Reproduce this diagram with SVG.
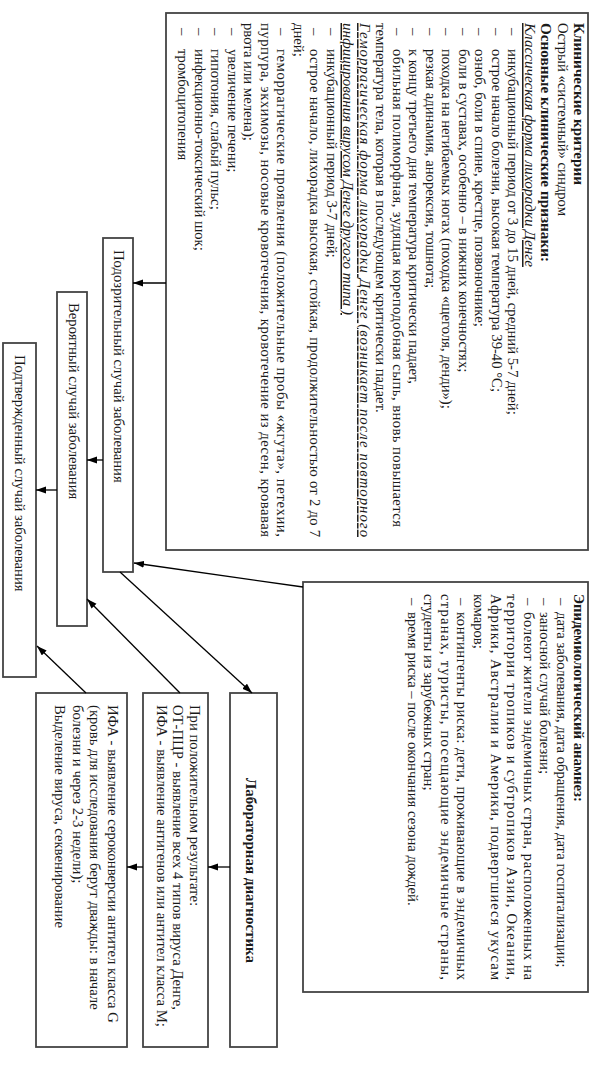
<svg xmlns="http://www.w3.org/2000/svg" width="593" height="1071" viewBox="0 0 593 1071">
<defs>
<style>
.box{fill:#fff;stroke:#444;stroke-width:1.8}
.t{font-family:"Liberation Serif","Times New Roman",serif;font-size:14.7px;fill:#1a1a1a}
.b{font-weight:bold}
.i{font-style:italic}
.u{text-decoration:underline}
.c{stroke:#000;stroke-width:1.3;fill:none}
</style>
<marker id="ah" markerWidth="10" markerHeight="8" refX="10" refY="3.5" orient="auto" markerUnits="userSpaceOnUse"><path d="M0,0 L10,3.5 L0,7 z" fill="#000"/></marker>
</defs>
<rect width="593" height="1071" fill="#fff"/>

<g id="clinical">
<rect class="box" x="166" y="13" width="422" height="537"/>
<g class="t" transform="translate(574,0) rotate(90)">
<text class="b" x="23" y="0" textLength="162" lengthAdjust="spacingAndGlyphs">Клинические критерии</text>
<text x="23" y="16.5">Острый «системный» синдром</text>
<text class="b" x="23" y="33" textLength="239" lengthAdjust="spacingAndGlyphs">Основные клинические признаки:</text>
<text class="i u" x="23" y="49.5" textLength="244" lengthAdjust="spacingAndGlyphs">Классическая форма лихорадки Денге</text>
<text x="28" y="66">–</text><text x="49" y="66">инкубационный период от 3 до 15 дней, средний 5-7 дней;</text>
<text x="28" y="82.5">–</text><text x="49" y="82.5">острое начало болезни, высокая температура 39-40 °С;</text>
<text x="28" y="99">–</text><text x="49" y="99">озноб, боли в спине, крестце, позвоночнике;</text>
<text x="28" y="115.5">–</text><text x="49" y="115.5">боли в суставах, особенно – в нижних конечностях;</text>
<text x="28" y="132">–</text><text x="49" y="132">походка на негибаемых ногах (походка «щеголя, денди»);</text>
<text x="28" y="148.5">–</text><text x="49" y="148.5">резкая адинамия, анорексия, тошнота;</text>
<text x="28" y="165">–</text><text x="49" y="165">к концу третьего дня температура критически падает,</text>
<text x="28" y="181.5">–</text><text x="49" y="181.5" textLength="478" lengthAdjust="spacing">обильная полиморфная, зудящая кореподобная сыпь, вновь повышается</text>
<text x="23" y="198">температура тела, которая в последующем критически падает.</text>
<text class="i u" x="23" y="214.5" textLength="514" lengthAdjust="spacing">Геморрагическая форма лихорадки Денге (возникает после повторного</text>
<text class="i u" x="23" y="231" textLength="292" lengthAdjust="spacingAndGlyphs">инфицирования вирусом Денге другого типа )</text>
<text x="28" y="247.5">–</text><text x="49" y="247.5">инкубационный период 3-7 дней;</text>
<text x="28" y="264">–</text><text x="49" y="264" textLength="488" lengthAdjust="spacing">острое начало, лихорадка высокая, стойкая, продолжительностью от 2 до 7</text>
<text x="23" y="280.5">дней;</text>
<text x="28" y="297">–</text><text x="49" y="297" textLength="488" lengthAdjust="spacing">геморрагические проявления (положительные пробы «жгута», петехии,</text>
<text x="23" y="313.5" textLength="514" lengthAdjust="spacing">пурпура, экхимозы, носовые кровотечения, кровотечение из десен, кровавая</text>
<text x="23" y="330">рвота или мелена);</text>
<text x="28" y="346.5">–</text><text x="49" y="346.5">увеличение печени;</text>
<text x="28" y="363">–</text><text x="49" y="363">гипотония, слабый пульс;</text>
<text x="28" y="379.5">–</text><text x="49" y="379.5">инфекционно-токсический шок;</text>
<text x="28" y="396">–</text><text x="49" y="396">тромбоцитопения</text>
</g>
</g>

<g id="epid">
<rect class="box" x="303" y="582" width="285" height="410"/>
<g class="t" transform="translate(573.5,0) rotate(90)">
<text class="b" x="594" y="0" textLength="208" lengthAdjust="spacingAndGlyphs">Эпидемиологический анамнез:</text>
<text x="598" y="16.6">–</text><text x="612" y="16.6">дата заболевания, дата обращения, дата госпитализации;</text>
<text x="598" y="33.2">–</text><text x="612" y="33.2">заносной случай болезни;</text>
<text x="598" y="49.8">–</text><text x="612" y="49.8" textLength="368" lengthAdjust="spacing">болеют жители эндемичных стран, расположенных на</text>
<text x="594" y="66.4" textLength="386" lengthAdjust="spacing">территории тропиков и субтропиков Азии, Океании,</text>
<text x="594" y="83" textLength="386" lengthAdjust="spacing">Африки, Австралии и Америки, подвергшиеся укусам</text>
<text x="594" y="99.6">комаров;</text>
<text x="598" y="116.2">–</text><text x="612" y="116.2" textLength="368" lengthAdjust="spacing">контингенты риска: дети, проживающие в эндемичных</text>
<text x="594" y="132.8" textLength="386" lengthAdjust="spacing">странах, туристы, посещающие эндемичные страны,</text>
<text x="594" y="149.4">студенты из зарубежных стран;</text>
<text x="598" y="166">–</text><text x="612" y="166">время риска – после окончания сезона дождей.</text>
</g>
</g>

<g id="suspected">
<rect class="box" x="103" y="238" width="30" height="334"/>
<text class="t" transform="translate(113.5,250) rotate(90)">Подозрительный случай заболевания</text>
</g>
<g id="probable">
<rect class="box" x="57" y="292" width="30" height="334"/>
<text class="t" transform="translate(68.5,303) rotate(90)">Вероятный случай заболевания</text>
</g>
<g id="confirmed">
<rect class="box" x="3" y="343" width="33" height="334"/>
<text class="t" transform="translate(14.5,355) rotate(90)">Подтвержденный случай заболевания</text>
</g>

<g id="lab">
<rect class="box" x="230" y="693" width="47" height="354"/>
<text class="t b" x="-92" y="0" textLength="185" lengthAdjust="spacingAndGlyphs" transform="translate(245.5,870) rotate(90)">Лабораторная диагностика</text>
</g>
<g id="pcr">
<rect class="box" x="143" y="693" width="65" height="354"/>
<g class="t" transform="translate(189.5,0) rotate(90)">
<text x="705" y="0">При положительном результате:</text>
<text x="705" y="16.5">ОТ-ПЦР - выявление всех 4 типов вируса Денге,</text>
<text x="705" y="33">ИФА - выявление антигенов или антител класса M;</text>
</g>
</g>
<g id="elisa">
<rect class="box" x="36" y="693" width="91" height="354"/>
<g class="t" transform="translate(107.5,0) rotate(90)">
<text x="705" y="0">ИФА - выявление сероконверсии антител класса G</text>
<text x="705" y="17.5">(кровь для исследования берут дважды: в начале</text>
<text x="705" y="35">болезни и через 2-3 недели);</text>
<text x="705" y="52.5">Выделение вируса, секвенирование</text>
</g>
</g>

<g id="connectors">
<line class="c" x1="166" y1="283" x2="133" y2="283" marker-end="url(#ah)"/>
<line class="c" x1="103" y1="460" x2="87" y2="460" marker-end="url(#ah)"/>
<line class="c" x1="57" y1="490" x2="36" y2="490" marker-end="url(#ah)"/>
<line class="c" x1="303" y1="587" x2="134" y2="563" marker-end="url(#ah)"/>
<line class="c" x1="120" y1="572" x2="252" y2="693" marker-end="url(#ah)"/>
<line class="c" x1="230" y1="867" x2="208" y2="867" marker-end="url(#ah)"/>
<line class="c" x1="143" y1="867" x2="127" y2="867" marker-end="url(#ah)"/>
<line class="c" x1="180" y1="693" x2="87" y2="599" marker-end="url(#ah)"/>
<line class="c" x1="86" y1="693" x2="37" y2="646" marker-end="url(#ah)"/>
</g>
</svg>
